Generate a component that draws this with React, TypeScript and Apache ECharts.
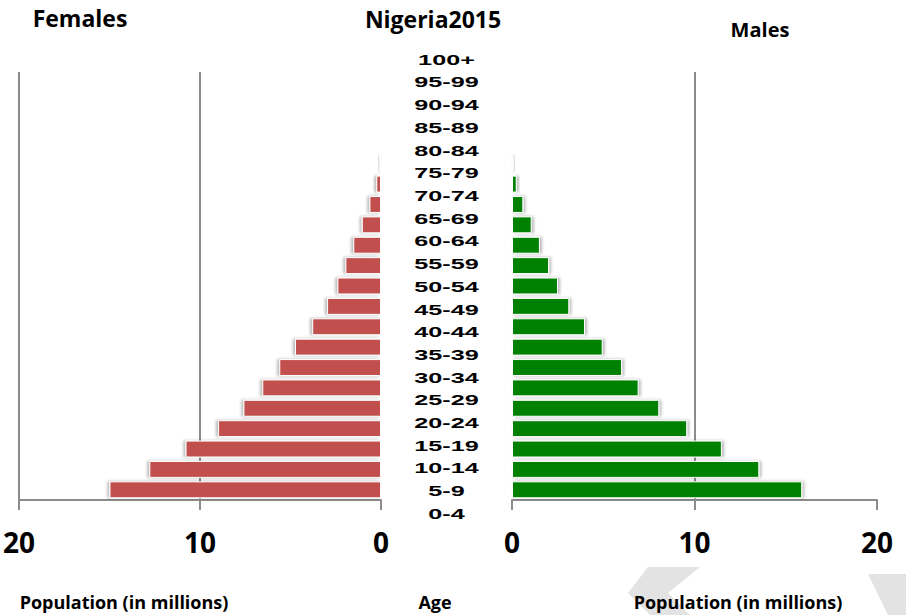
import React, { useEffect, useRef } from "react";
import * as echarts from "echarts";

const ages = ["0-4", "5-9", "10-14", "15-19", "20-24", "25-29", "30-34", "35-39", "40-44", "45-49", "50-54", "55-59", "60-64", "65-69", "70-74", "75-79", "80-84", "85-89", "90-94", "95-99", "100+"];
const females = [15.0, 12.8, 10.8, 9.0, 7.6, 6.56, 5.62, 4.75, 3.8, 2.98, 2.41, 1.97, 1.53, 1.06, 0.64, 0.26, 0.1, 0.05, 0.02, 0.005, 0];
const males = [15.9, 13.55, 11.5, 9.6, 8.07, 6.94, 6.03, 4.97, 4.0, 3.14, 2.52, 2.03, 1.53, 1.08, 0.62, 0.26, 0.1, 0.05, 0.02, 0.005, 0];
const axisMin = 0;
const axisMax = 20;
const tickStep = 10;
const titleText = "Nigeria2015";
const femaleTitle = "Females";
const maleTitle = "Males";
const popAxisName = "Population (in millions)";
const ageAxisName = "Age";

const NARROW = "'Liberation Sans Narrow', 'Open Sans', sans-serif";
const GRID_GREY = "#8c8c8c";

export default function App() {
  const ref = useRef<HTMLDivElement>(null);
  useEffect(() => {
    if (!ref.current) return;
    const chart = echarts.init(ref.current, null, { renderer: "svg" });
    const valueAxis = (inverse: boolean, gridIndex: number, showMax: boolean) => ({
      type: "value",
      gridIndex,
      inverse,
      min: axisMin,
      max: axisMax,
      interval: tickStep,
      position: "bottom",
      axisLine: { show: true, lineStyle: { color: GRID_GREY, width: 2 } },
      axisTick: { show: true, length: 10, lineStyle: { color: GRID_GREY, width: 2 } },
      axisLabel: {
        color: "#000",
        fontSize: 28,
        fontWeight: "bold",
        fontFamily: NARROW,
        margin: 28,
      },
      splitLine: {
        show: true,
        showMinLine: false,
        showMaxLine: showMax,
        lineStyle: { color: GRID_GREY, width: 2 },
      },
    });
    const catAxis = (gridIndex: number) => ({
      type: "category",
      gridIndex,
      data: ages,
      axisLine: { show: false },
      axisTick: { show: false },
      axisLabel: { show: false },
      splitLine: { show: false },
    });
    const barStyle = (color: string, dir: number) => ({
      color,
      borderColor: "#ffffff",
      borderWidth: 1,
      shadowColor: "rgba(0,0,0,0.28)",
      shadowBlur: 3,
      shadowOffsetX: 2 * dir,
    });
    const option: any = {
      animation: false,
      backgroundColor: "#ffffff",
      grid: [
        { left: 16, right: 525, top: 72, bottom: 115 },
        { left: 512, right: 29, top: 72, bottom: 115 },
        { left: 381, right: 394, top: 48.6, bottom: 89.6 },
      ],
      xAxis: [
        valueAxis(true, 0, true),
        valueAxis(false, 1, false),
        { type: "value", gridIndex: 2, min: -1, max: 1, show: false },
      ],
      yAxis: [
        catAxis(0),
        catAxis(1),
        { ...catAxis(2), show: false },
      ],
      series: [
        {
          type: "bar",
          xAxisIndex: 0,
          yAxisIndex: 0,
          data: females,
          barWidth: "83%",
          itemStyle: barStyle("#C0504D", -1),
          z: 3,
        },
        {
          type: "bar",
          xAxisIndex: 1,
          yAxisIndex: 1,
          data: males,
          barWidth: "83%",
          itemStyle: barStyle("#008000", 1),
          z: 3,
        },
        {
          type: "custom",
          xAxisIndex: 2,
          yAxisIndex: 2,
          data: ages.map((a, i) => [0, i]),
          encode: { x: 0, y: 1 },
          renderItem: (params: any, api: any) => {
            const idx = api.value(1);
            const p = api.coord([0, idx]);
            return {
              type: "text",
              x: p[0],
              y: p[1],
              scaleX: 1.8,
              style: {
                text: ages[idx],
                x: 0,
                y: 0,
                align: "center",
                verticalAlign: "middle",
                font: "bold 14px 'Liberation Sans', Arial, sans-serif",
                fill: "#000",
              },
            };
          },
        },
      ],
      graphic: [
        {
          type: "polygon",
          silent: true,
          z: 0,
          shape: { points: [[648, 567], [700, 567], [668, 593], [690, 615], [650, 615], [628, 593]] },
          style: { fill: "#e3e3e3" },
        },
        {
          type: "polygon",
          silent: true,
          z: 0,
          shape: { points: [[868, 574], [906, 574], [906, 615], [888, 615]] },
          style: { fill: "#e3e3e3" },
        },
        { type: "text", x: 80, y: 18, style: { text: femaleTitle, align: "center", verticalAlign: "middle", font: `bold 23px ${NARROW}`, fill: "#000" } },
        { type: "text", x: 433, y: 19, style: { text: titleText, align: "center", verticalAlign: "middle", font: `bold 23px ${NARROW}`, fill: "#000" } },
        { type: "text", x: 760, y: 29, style: { text: maleTitle, align: "center", verticalAlign: "middle", font: `bold 20px ${NARROW}`, fill: "#000" } },
        { type: "text", x: 124, y: 602, style: { text: popAxisName, align: "center", verticalAlign: "middle", font: `bold 18px ${NARROW}`, fill: "#000" } },
        { type: "text", x: 435, y: 602, style: { text: ageAxisName, align: "center", verticalAlign: "middle", font: `bold 18px ${NARROW}`, fill: "#000" } },
        { type: "text", x: 738, y: 602, style: { text: popAxisName, align: "center", verticalAlign: "middle", font: `bold 18px ${NARROW}`, fill: "#000" } },
      ],
    };
    chart.setOption(option);
    return () => chart.dispose();
  }, []);
  return (
    <div
      ref={ref}
      style={{ position: "fixed", left: 0, top: 0, width: 906, height: 615, background: "#fff" }}
    />
  );
}
